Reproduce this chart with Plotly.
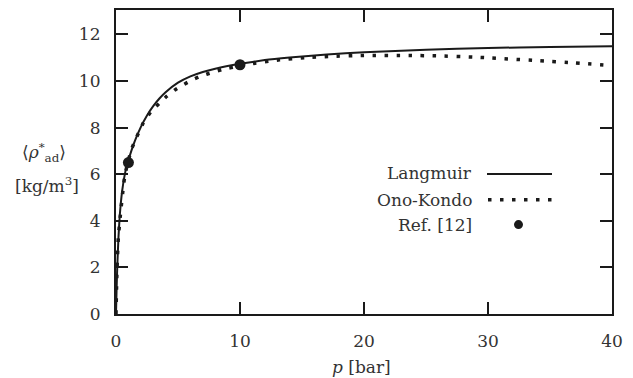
import plotly.graph_objects as go

# Langmuir isotherm
lang_p = [0, 0.05, 0.1, 0.2, 0.3, 0.5, 0.75, 1, 1.5, 2, 2.5, 3, 3.5, 4, 5, 6, 7, 8, 10, 12, 14, 17, 20, 25, 30, 35, 40]
lang_rho = [0, 1.1, 2.0, 3.3, 4.2, 5.3, 6.1, 6.6, 7.4, 8.02, 8.52, 8.92, 9.25, 9.52, 9.93, 10.2, 10.39, 10.53, 10.74, 10.9,
            11.01, 11.14, 11.24, 11.34, 11.42, 11.46, 11.49]

# Ono-Kondo model
ok_p = [0, 0.05, 0.1, 0.19, 0.4, 0.6, 0.73, 1.0, 1.27, 1.67, 2.2, 2.8, 3.5, 4.1, 4.7, 5.3, 6.1, 6.9, 7.7, 8.6, 10,
        11.3, 12.3, 13.2, 15.2, 17.3, 20, 23.6, 26, 28.8, 30, 33.9, 37, 40]
ok_rho = [0, 1.3, 2.2, 3.3, 4.5, 5.5, 6.0, 6.6, 7.1, 7.6, 8.2, 8.68, 9.05, 9.35, 9.6, 9.8, 10.04, 10.22, 10.36, 10.5, 10.65,
          10.77, 10.85, 10.91, 11.0, 11.06, 11.1, 11.1, 11.08, 11.03, 11.0, 10.88, 10.78, 10.66]

# Reference data
ref_p = [1, 10]
ref_rho = [6.5, 10.7]

x_ticks = [0, 10, 20, 30, 40]
y_ticks = [0, 2, 4, 6, 8, 10, 12]

FONT = "DejaVu Serif, Liberation Serif, serif"
INK = "#1a1a1a"
TXT = "#333333"
FS = 17

fig = go.Figure()
fig.add_trace(go.Scatter(x=lang_p, y=lang_rho, mode="lines", line=dict(color=INK, width=2, shape="spline", smoothing=0.4),
                         showlegend=False))
fig.add_trace(go.Scatter(x=ok_p, y=ok_rho, mode="lines",
                         line=dict(color=INK, width=3.5, dash="3.5px,8.5px", shape="spline", smoothing=0.4),
                         showlegend=False))
fig.add_trace(go.Scatter(x=ref_p, y=ref_rho, mode="markers", marker=dict(color=INK, size=11), showlegend=False,
                         cliponaxis=False))

axis_common = dict(showgrid=False, zeroline=False, showline=True, linecolor=INK, linewidth=2.2, mirror="ticks",
                   ticks="inside", ticklen=12, tickwidth=2, tickcolor=INK,
                   tickfont=dict(family=FONT, size=FS, color=TXT))

fig.update_xaxes(range=[0, 40], tickvals=x_ticks, ticklabelstandoff=10, **axis_common)
fig.update_yaxes(range=[0, 13.05], tickvals=y_ticks, ticklabelstandoff=10, **axis_common)

W = 496.0
H = 306.0

def px_x(px):
    return (px - 116) / W

def px_y(py):
    return (314 - py) / H

annots = [
    dict(text="<i>p</i> [bar]", x=px_x(361), y=px_y(367), xanchor="center", yanchor="middle"),
    dict(text="⟨<i>ρ</i><sup>*</sup><sub>ad</sub>⟩", x=px_x(44), y=px_y(151), xanchor="center", yanchor="middle"),
    dict(text="[kg/m<sup>3</sup>]", x=px_x(47), y=px_y(184), xanchor="center", yanchor="middle"),
    dict(text="Langmuir", x=px_x(474), y=px_y(172), xanchor="right", yanchor="middle"),
    dict(text="Ono-Kondo", x=px_x(474), y=px_y(199), xanchor="right", yanchor="middle"),
    dict(text="Ref. [12]", x=px_x(474), y=px_y(224), xanchor="right", yanchor="middle"),
]
for a in annots:
    fig.add_annotation(xref="paper", yref="paper", showarrow=False, font=dict(family=FONT, size=FS, color=TXT), **a)

fig.add_shape(type="line", xref="paper", yref="paper", x0=px_x(487), x1=px_x(552), y0=px_y(173), y1=px_y(173),
              line=dict(color=INK, width=2))
fig.add_shape(type="line", xref="paper", yref="paper", x0=px_x(488), x1=px_x(557), y0=px_y(199), y1=px_y(199),
              line=dict(color=INK, width=3.5, dash="3.5px,8.5px"))
fig.add_shape(type="circle", xref="paper", yref="paper", x0=px_x(514), x1=px_x(523), y0=px_y(228.5), y1=px_y(219.5),
              fillcolor=INK, line=dict(color=INK, width=0))

fig.update_layout(width=633, height=378, margin=dict(l=116, r=21, t=8, b=64),
                  paper_bgcolor="white", plot_bgcolor="white", showlegend=False,
                  font=dict(family=FONT, size=FS, color=TXT))

fig.write_html("out.html")
